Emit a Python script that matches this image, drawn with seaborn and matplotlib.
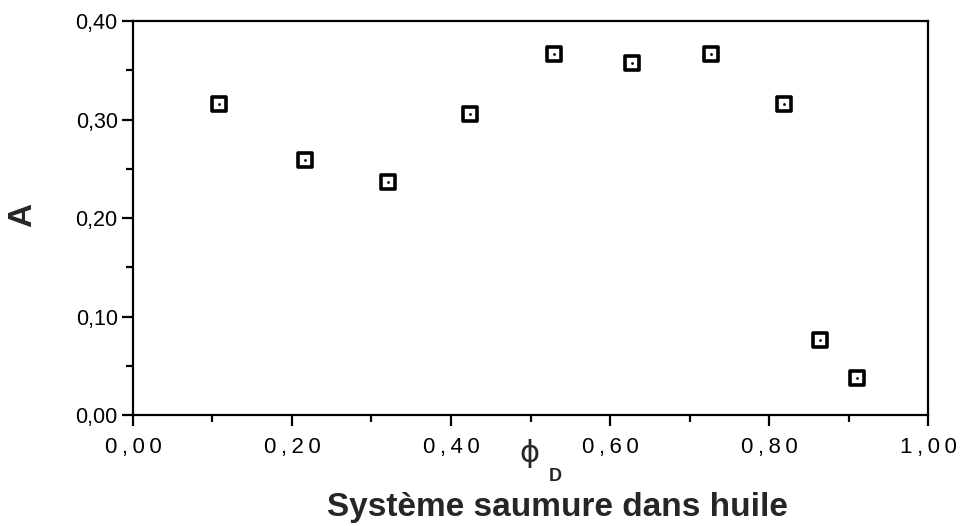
import matplotlib
matplotlib.use("Agg")
import matplotlib.pyplot as plt
from matplotlib.ticker import MultipleLocator, FuncFormatter
import seaborn as sns
import pandas as pd

# Fraction de phase dispersée et paramètre A mesuré
phi_d = [0.108, 0.216, 0.321, 0.424, 0.530, 0.628, 0.727, 0.819, 0.864, 0.911]
a_vals = [0.316, 0.259, 0.237, 0.306, 0.367, 0.357, 0.367, 0.316, 0.076, 0.038]

x_ticks = [0.0, 0.2, 0.4, 0.6, 0.8, 1.0]
y_ticks = [0.0, 0.1, 0.2, 0.3, 0.4]

df = pd.DataFrame({"phi": phi_d, "A": a_vals})

sns.set_theme(style="ticks")
plt.rcParams["font.family"] = ["Liberation Sans", "DejaVu Sans"]

fig = plt.figure(figsize=(9.65, 5.26), dpi=100)
ax = fig.add_axes([0.1378, 0.2110, 0.9617 - 0.1378, 0.960 - 0.2110])

# carré ouvert à bord épais avec point central
sns.scatterplot(data=df, x="phi", y="A", ax=ax, marker="s", s=95,
                facecolor="white", edgecolor="black", linewidth=2.6, zorder=3)
sns.scatterplot(data=df, x="phi", y="A", ax=ax, marker="o", s=4,
                color="black", linewidth=0, zorder=4)

ax.set_xlim(0, 1)
ax.set_ylim(0, 0.4)
ax.set_xticks(x_ticks)
ax.set_yticks(y_ticks)
ax.xaxis.set_minor_locator(MultipleLocator(0.1))
ax.yaxis.set_minor_locator(MultipleLocator(0.05))

ax.xaxis.set_major_formatter(
    FuncFormatter(lambda v, p: "\u2009".join(f"{v:.2f}".replace(".", ","))))
ax.yaxis.set_major_formatter(FuncFormatter(lambda v, p: f"{v:.2f}".replace(".", ",")))

for side in ["left", "right", "top", "bottom"]:
    ax.spines[side].set_visible(True)
    ax.spines[side].set_linewidth(1.6)
    ax.spines[side].set_color("black")

ax.tick_params(axis="both", which="major", direction="out", length=8, width=1.6,
               color="black", labelcolor="black")
ax.tick_params(axis="both", which="minor", direction="out", length=5, width=1.6,
               color="black")
ax.tick_params(axis="x", which="major", labelsize=16, pad=8)
ax.tick_params(axis="y", which="major", labelsize=15.5, pad=3)

ax.set_xlabel("")
ax.set_ylabel("")

fig.text(0.578, 0.036, "Système saumure dans huile", ha="center", va="center",
         fontsize=24, fontweight="bold")
fig.text(0.024, 0.591, "A", ha="center", va="center", rotation=90,
         fontsize=24, fontweight="bold")
fig.text(0.549, 0.137, "ϕ", ha="center", va="center", fontsize=22,
         family=["DejaVu Sans"])
fig.text(0.575, 0.095, "D", ha="center", va="center", fontsize=13,
         fontweight="bold")

fig.savefig("out.png", dpi=100, facecolor="white")
